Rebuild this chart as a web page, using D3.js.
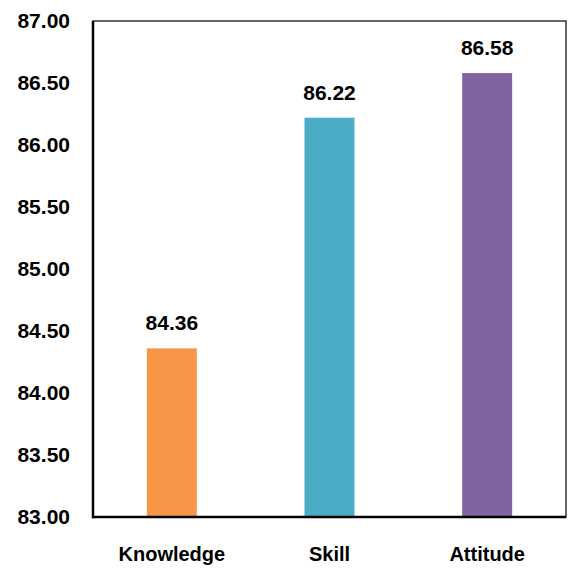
<!DOCTYPE html>
<html>
<head>
<meta charset="utf-8">
<script src="https://cdn.jsdelivr.net/npm/d3@7"></script>
<style>
  html, body { margin: 0; padding: 0; background: #fff; }
  svg { display: block; }
  text { font-family: "Liberation Sans", Arial, sans-serif; font-weight: bold; fill: #000; }
</style>
</head>
<body>
<svg id="chart" width="568" height="574"></svg>
<script>
const categories = ["Knowledge", "Skill", "Attitude"];
const values = [84.36, 86.22, 86.58];
const colors = ["#F79646", "#4BACC6", "#8064A2"];
const yTicks = [83.0, 83.5, 84.0, 84.5, 85.0, 85.5, 86.0, 86.5, 87.0];

const svg = d3.select("#chart");
const mLeft = 93, mRight = 566, mTop = 21, mBottom = 517;

const x = d3.scaleBand().domain(categories).range([mLeft, mRight])
  .paddingInner(0.683).paddingOuter(0.3415);
const y = d3.scaleLinear().domain([83, 87]).range([mBottom, mTop]);

// frame
svg.append("rect").attr("x", mLeft).attr("y", mTop)
  .attr("width", mRight - mLeft).attr("height", mBottom - mTop)
  .attr("fill", "none").attr("stroke", "#333").attr("stroke-width", 1.5);

// bars
svg.selectAll("rect.bar").data(values).join("rect").attr("class", "bar")
  .attr("x", (d, i) => x(categories[i]))
  .attr("width", x.bandwidth())
  .attr("y", d => y(d))
  .attr("height", d => y(83) - y(d))
  .attr("fill", (d, i) => colors[i]);

// value labels
svg.selectAll("text.val").data(values).join("text").attr("class", "val")
  .attr("x", (d, i) => x(categories[i]) + x.bandwidth() / 2)
  .attr("y", d => y(d) - 18)
  .attr("text-anchor", "middle")
  .style("font-size", "21px")
  .text(d => d.toFixed(2));

// y axis
const yAxis = d3.axisLeft(y).tickValues(yTicks).tickFormat(d3.format(".2f")).tickSize(0).tickPadding(23);
const gy = svg.append("g").attr("transform", `translate(${mLeft},0)`).call(yAxis);
gy.select(".domain").remove();
gy.selectAll("text").attr("dy", "0.3em").style("font-size", "21px").style("font-family", '"Liberation Sans", Arial, sans-serif').style("font-weight", "bold").attr("fill", "#000");

// x axis
const xAxis = d3.axisBottom(x).tickSize(0).tickPadding(30);
const gx = svg.append("g").attr("transform", `translate(0,${mBottom})`).call(xAxis);
gx.select(".domain").remove();
gx.selectAll("text").style("font-size", "20px").style("font-family", '"Liberation Sans", Arial, sans-serif').style("font-weight", "bold").attr("fill", "#000");

// axis lines (thicker left and bottom)
svg.append("line").attr("x1", mLeft).attr("x2", mLeft).attr("y1", mTop).attr("y2", mBottom + 1.25)
  .attr("stroke", "#000").attr("stroke-width", 2.5);
svg.append("line").attr("x1", mLeft).attr("x2", mRight).attr("y1", mBottom).attr("y2", mBottom)
  .attr("stroke", "#000").attr("stroke-width", 2.5);
</script>
</body>
</html>
